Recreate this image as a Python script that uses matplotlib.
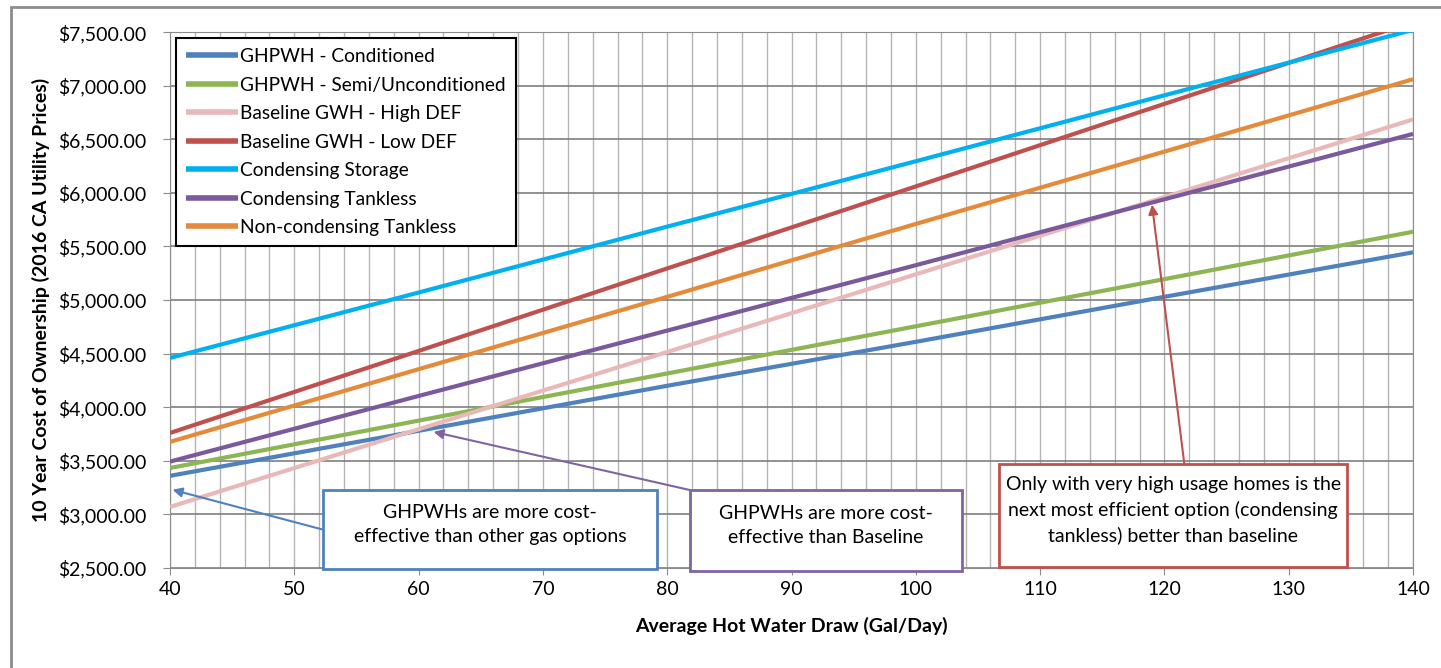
import numpy as np
import matplotlib.pyplot as plt
from matplotlib.patches import Rectangle
from matplotlib.ticker import FuncFormatter, MultipleLocator

plt.rcParams['font.family'] = ['Lato', 'DejaVu Sans']

# data
draw = [40, 60, 80, 100, 120, 140]
ghpwh_cond = [3360, 3780, 4200, 4610, 5030, 5445]
ghpwh_semi = [3433, 3875, 4315, 4755, 5195, 5637]
base_high = [3070, 3795, 4515, 5240, 5960, 6685]
base_low = [3760, 4525, 5295, 6060, 6830, 7595]
cond_storage = [4460, 5070, 5685, 6295, 6910, 7520]
cond_tankless = [3493, 4105, 4715, 5325, 5940, 6550]
noncond_tankless = [3677, 4355, 5030, 5710, 6385, 7060]

names = ['GHPWH - Conditioned', 'GHPWH - Semi/Unconditioned', 'Baseline GWH - High DEF',
         'Baseline GWH - Low DEF', 'Condensing Storage', 'Condensing Tankless',
         'Non-condensing Tankless']
series = [ghpwh_cond, ghpwh_semi, base_high, base_low, cond_storage, cond_tankless,
          noncond_tankless]
colors = ['#4F81BD', '#8DB554', '#E8B9B8', '#C0504D', '#00B0F0', '#7A5A9C', '#E48A3A']

fig = plt.figure(figsize=(14.41, 6.68), dpi=100)
ax = fig.add_axes([0.118, 0.1497, 0.8626, 0.8023])

# outer chart border
fig.patches.append(Rectangle((11 / 1441, -0.1), 1.2, 1.1 - 7 / 668, transform=fig.transFigure,
                             fill=False, edgecolor='#8c8c8c', lw=2))

for y, name, c in zip(series, names, colors):
    ax.plot(draw, y, color=c, lw=3, label=name, solid_capstyle='butt', zorder=3)

ax.set_xlim(40, 140)
ax.set_ylim(2500, 7500)
ax.xaxis.set_major_locator(MultipleLocator(10))
ax.xaxis.set_minor_locator(MultipleLocator(2))
ax.yaxis.set_major_locator(MultipleLocator(500))
ax.yaxis.set_major_formatter(FuncFormatter(lambda v, p: '${:,.2f}'.format(v)))
ax.grid(True, which='minor', axis='x', color='#b4b4b4', lw=1, zorder=0)
ax.grid(True, which='major', axis='x', color='#b4b4b4', lw=1, zorder=0)
ax.grid(True, which='major', axis='y', color='#7f7f7f', lw=1.2, zorder=0)
ax.tick_params(axis='both', which='major', length=5, color='#8c8c8c', labelsize=14)
ax.tick_params(axis='x', which='minor', length=0)
ax.tick_params(axis='x', pad=4)
ax.tick_params(axis='y', pad=12)
for s in ax.spines.values():
    s.set_color('#8c8c8c')

ax.set_xlabel('Average Hot Water Draw (Gal/Day)', fontsize=14, fontweight='bold', labelpad=14)
ax.set_ylabel('10 Year Cost of Ownership (2016 CA Utility Prices)', fontsize=14,
              fontweight='bold', labelpad=6)

leg = ax.legend(loc='upper left', bbox_to_anchor=(0.005, 0.988), fontsize=13.8, handlelength=2.7,
                handletextpad=0.15, labelspacing=0.6, borderpad=0.5, borderaxespad=0,
                fancybox=False, framealpha=1)
leg.get_frame().set_edgecolor('black')
leg.get_frame().set_linewidth(1.5)
leg.set_zorder(10)
for h in leg.get_lines():
    h.set_linewidth(4)

# callout boxes: (x0, y0, x1, y1) in data units, text, color
boxes = [
    ((52.3, 2490, 79.2, 3228), 'GHPWHs are more cost-\neffective than other gas options', '#4F81BD'),
    ((81.8, 2470, 103.7, 3228), 'GHPWHs are more cost-\neffective than Baseline', '#8064A2'),
    ((106.7, 2505, 134.7, 3470), 'Only with very high usage homes is the\nnext most efficient option (condensing\ntankless) better than baseline', '#C0504D'),
]
arrows = [
    ((52.3, 2858), (40.2, 3230)),
    ((81.8, 3228), (61.2, 3770)),
    ((121.6, 3470), (119.0, 5890)),
]
for (b, txt, c), (tail, head) in zip(boxes, arrows):
    ax.annotate('', xy=head, xytext=tail, zorder=11,
                arrowprops=dict(arrowstyle='-|>', color=c, lw=1.5, mutation_scale=14,
                                shrinkA=0, shrinkB=0))
    ax.add_patch(Rectangle((b[0], b[1]), b[2] - b[0], b[3] - b[1], facecolor='white',
                           edgecolor=c, lw=2, zorder=12, clip_on=False))
    ax.text((b[0] + b[2]) / 2, (b[1] + b[3]) / 2 + 50, txt, ha='center', va='center',
            fontsize=14, zorder=13, linespacing=1.5)

fig.savefig('out.png', dpi=100)
